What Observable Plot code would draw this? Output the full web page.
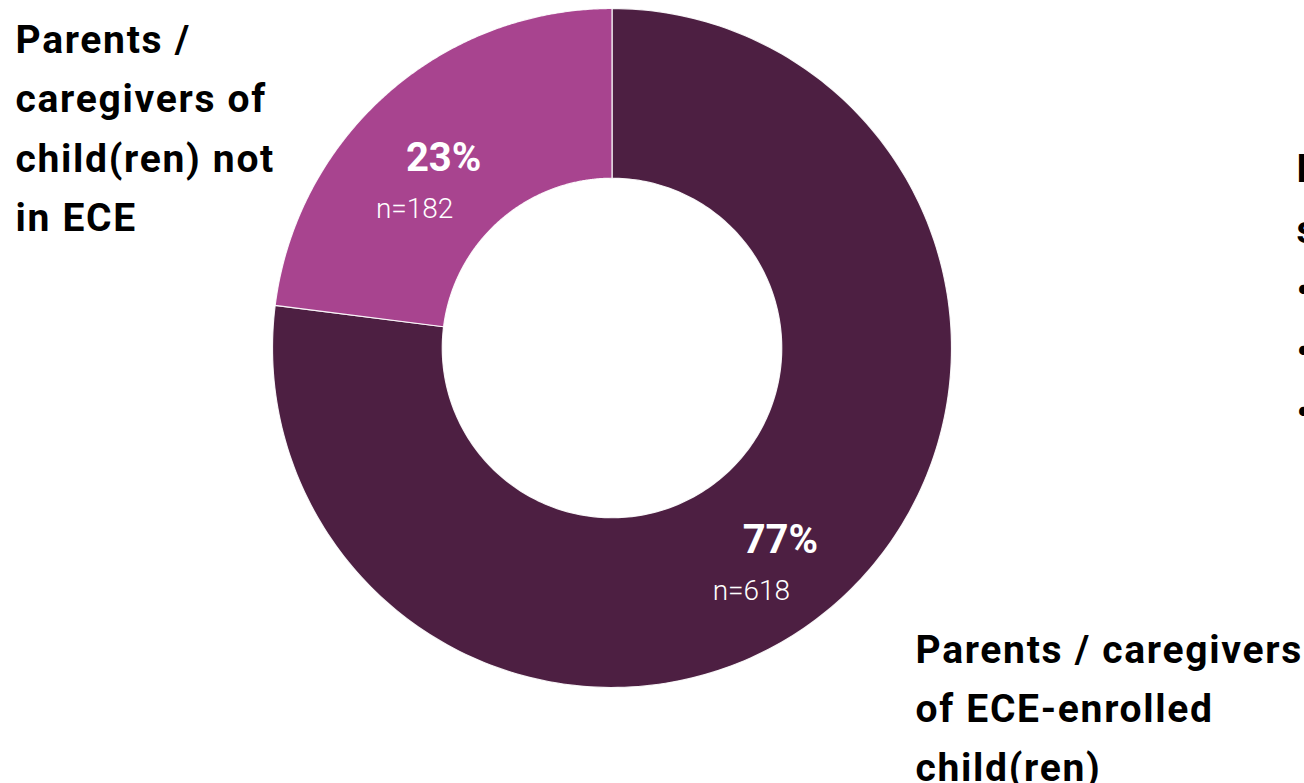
<!DOCTYPE html>
<html>
<head>
<meta charset="utf-8">
<script src="https://cdn.jsdelivr.net/npm/d3@7"></script>
<script src="https://cdn.jsdelivr.net/npm/@observablehq/plot@0.6"></script>
<style>
  html, body { margin: 0; padding: 0; background: #fff; overflow: hidden; }
  #chart svg { display: block; font-family: Roboto, "Noto Sans", sans-serif; }
  #chart .catlabel text { letter-spacing: 1.7px; }
</style>
</head>
<body>
<div id="chart"></div>
<script>
// ---- Data ----
const categories = ["ECE-enrolled", "Not in ECE"];
const percentValues = [77, 23];
const counts = [618, 182];
const sliceColors = ["#4D1F42", "#A8448F"];
const labelNotInECE = "Parents /\ncaregivers of\nchild(ren) not\nin ECE";
const labelEnrolled = "Parents / caregivers\nof ECE-enrolled\nchild(ren)";
const sideNote = "Profile of\nsurvey respondents\n• Mothers\n• Fathers\n• Other caregivers";

// ---- Geometry derived from data ----
const innerRatio = 0.5;
const total = d3.sum(percentValues);
let acc = 0;
const slices = categories.map((c, i) => {
  const a0 = acc / total * 2 * Math.PI;
  acc += percentValues[i];
  const a1 = acc / total * 2 * Math.PI;
  return {cat: c, a0, a1, pct: `${percentValues[i]}%`, n: `n=${counts[i]}`};
});
const ring = [];
for (const s of slices) {
  const steps = 240;
  for (let k = 0; k <= steps; k++) {
    const a = s.a0 + (s.a1 - s.a0) * k / steps;
    ring.push({cat: s.cat, x: Math.sin(a), y: Math.cos(a)});
  }
  for (let k = steps; k >= 0; k--) {
    const a = s.a0 + (s.a1 - s.a0) * k / steps;
    ring.push({cat: s.cat, x: innerRatio * Math.sin(a), y: innerRatio * Math.cos(a)});
  }
}
const rMid = (1 + innerRatio) / 2;
const centroids = slices.map(s => {
  const m = (s.a0 + s.a1) / 2;
  return {...s, x: rMid * Math.sin(m), y: rMid * Math.cos(m)};
});

const font = "Roboto, sans-serif";
const chart = Plot.plot({
  width: 1304,
  height: 783,
  marginLeft: 272,
  marginRight: 353,
  marginTop: 8,
  marginBottom: 96,
  x: {domain: [-1, 1], axis: null},
  y: {domain: [-1, 1], axis: null},
  color: {domain: categories, range: sliceColors},
  style: {fontFamily: font, background: "#fff", overflow: "hidden"},
  marks: [
    Plot.line(ring, {x: "x", y: "y", z: "cat", fill: "cat", stroke: "#ffffff", strokeWidth: 1.2, strokeOpacity: 0.9, curve: "linear-closed"}),
    Plot.text(centroids, {x: "x", y: "y", text: "pct", fill: "white", fontSize: 40, fontWeight: 700, dy: 1}),
    Plot.text(centroids, {x: "x", y: "y", text: "n", fill: "white", fontSize: 28, fontWeight: 300, dx: -29, dy: 52}),
    Plot.text([labelNotInECE], {text: d => d, className: "catlabel", frameAnchor: "top-left", textAnchor: "start", lineAnchor: "top", lineHeight: 1.525, fontSize: 39, fontWeight: 700, fill: "#000", dx: -257, dy: 2}),
    Plot.text([labelEnrolled], {text: d => d, className: "catlabel", frameAnchor: "bottom-right", textAnchor: "start", lineAnchor: "top", lineHeight: 1.51, fontSize: 39, fontWeight: 700, fill: "#000", dx: -36, dy: -66}),
    Plot.text([sideNote], {text: d => d, className: "catlabel", frameAnchor: "top-right", textAnchor: "start", lineAnchor: "top", lineHeight: 1.565, fontSize: 39, fontWeight: 700, fill: "#000", dx: 345, dy: 130})
  ]
});
document.getElementById("chart").appendChild(chart);
</script>
</body>
</html>
